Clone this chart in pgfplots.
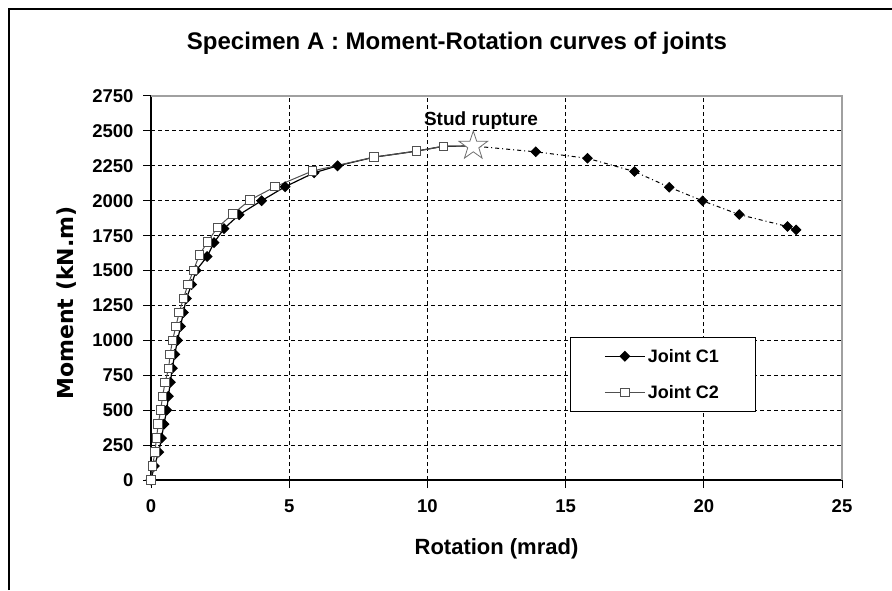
\documentclass[border=0pt]{standalone}
\usepackage{fontspec}
\setmainfont{Liberation Sans}
\newfontfamily\dejavu{DejaVu Sans}
\usepackage{pgfplots}
\pgfplotsset{compat=1.18}

\pgfdeclareplotmark{ostar}{%
  \pgfpathmoveto{\pgfqpoint{0pt}{15pt}}%
  \pgfpathlineto{\pgfqpoint{3.41pt}{4.69pt}}%
  \pgfpathlineto{\pgfqpoint{14.27pt}{4.64pt}}%
  \pgfpathlineto{\pgfqpoint{5.52pt}{-1.79pt}}%
  \pgfpathlineto{\pgfqpoint{8.82pt}{-12.14pt}}%
  \pgfpathlineto{\pgfqpoint{0pt}{-5.8pt}}%
  \pgfpathlineto{\pgfqpoint{-8.82pt}{-12.14pt}}%
  \pgfpathlineto{\pgfqpoint{-5.52pt}{-1.79pt}}%
  \pgfpathlineto{\pgfqpoint{-14.27pt}{4.64pt}}%
  \pgfpathlineto{\pgfqpoint{-3.41pt}{4.69pt}}%
  \pgfpathclose
  \pgfusepathqfillstroke
}

\definecolor{cframe}{RGB}{160,160,160}
\definecolor{ctwo}{RGB}{80,80,80}
\definecolor{cstar}{RGB}{110,110,110}

\begin{document}
\begin{tikzpicture}
\path[use as bounding box] (0pt,0pt) rectangle (892pt,590pt);
\draw[line width=1.5pt] (9pt,0pt) -- (9pt,581pt) -- (892pt,581pt);
\node[anchor=base, font=\fontsize{24}{28}\selectfont\bfseries] at (457pt,540.7pt) {Specimen A : Moment-Rotation curves of joints};
\begin{axis}[
  at={(151pt,110pt)}, anchor=south west,
  scale only axis, width=691pt, height=384pt,
  xmin=0, xmax=25, ymin=0, ymax=2750,
  xtick distance=5, ytick distance=250,
  axis x line*=bottom, axis y line*=left,
  axis line style={black, line width=1.5pt},
  tick align=outside, major tick length=8pt,
  tick style={black, line width=1pt},
  grid=major,
  major grid style={black, line width=0.9pt, dash pattern=on 4pt off 3pt},
  /pgf/number format/.cd, assume math mode=true, 1000 sep={}, /pgfplots/.cd,
  ticklabel style={font=\fontsize{18.5}{21}\selectfont\bfseries},
  xticklabel style={yshift=-8pt},
  yticklabel style={xshift=-6pt},
  xlabel={Rotation (mrad)},
  xlabel style={at={(axis description cs:0.5,-0.195)}, anchor=base, font=\fontsize{22}{26}\selectfont\bfseries},
  ylabel={Moment (kN.m)},
  ylabel style={at={(axis description cs:-0.1216,0.461)}, anchor=center, font=\fontsize{22}{26}\selectfont\dejavu\bfseries},
  clip=false,
  legend style={at={(0.606,0.3724)}, anchor=north west, draw=black, line width=1pt, fill=white,
    font=\fontsize{18}{20}\selectfont\bfseries, inner xsep=34pt, inner ysep=10pt, row sep=19pt,
    nodes={inner sep=2.5pt, text height=12.5pt, text depth=0pt}},
  legend cell align=left,
  legend image code/.code={\draw[mark indices={2}] plot coordinates {(0pt,0pt) (20pt,0pt) (40pt,0pt)};},
]
\draw[cframe, line width=1.5pt] (rel axis cs:0,1) -- (rel axis cs:1,1) -- (rel axis cs:1,0);

% Joint C1 (pre-rupture)
\addplot[black, line width=1.2pt, mark=square*, mark size=3.3pt,
  mark options={rotate=45, solid, fill=black}, mark indices={1,...,24}]
coordinates {
(0,0)(0.12,100)(0.28,200)(0.38,300)(0.47,400)(0.57,500)(0.63,600)(0.70,700)
(0.77,800)(0.86,900)(0.96,1000)(1.07,1100)(1.17,1200)(1.28,1300)(1.47,1400)
(1.63,1500)(2.03,1600)(2.28,1700)(2.64,1800)(3.19,1900)(4.00,2000)(4.85,2100)
(5.90,2200)(6.75,2250)(8.07,2312)(9.60,2355)(10.58,2390)(11.66,2392)
};
\addlegendentry{Joint C1}

% Joint C1 (post-rupture)
\addplot[forget plot, black, line width=1pt, dash pattern=on 4pt off 3pt on 1pt off 3pt,
  mark=square*, mark size=3.3pt, mark options={rotate=45, solid, fill=black}, mark indices={2,...,9}]
coordinates {
(11.66,2392)(13.92,2350)(15.79,2304)(17.49,2209)(18.75,2097)(19.96,1999)
(21.28,1901)(23.03,1815)(23.34,1791)
};

% Joint C2
\addplot[ctwo, line width=1pt, mark=square*, mark size=4.2pt,
  mark options={solid, fill=white, draw=ctwo, line width=1pt}, mark indices={1,...,26}]
coordinates {
(0,0)(0.06,100)(0.14,200)(0.20,300)(0.26,400)(0.35,500)(0.42,600)(0.51,700)
(0.64,800)(0.69,900)(0.78,1000)(0.90,1100)(1.02,1200)(1.17,1300)(1.34,1400)
(1.53,1500)(1.75,1610)(2.04,1705)(2.40,1807)(2.96,1905)(3.58,2005)(4.49,2100)
(5.84,2213)(8.07,2312)(9.60,2355)(10.58,2390)(11.66,2392)
};
\addlegendentry{Joint C2}

% Stud rupture point
\addplot[forget plot, only marks, mark=ostar, mark options={fill=white, draw=cstar, line width=0.8pt}]
coordinates {(11.66,2392)};

\node[anchor=base, font=\fontsize{19}{22}\selectfont\bfseries] at (axis cs:11.94,2536) {Stud rupture};
\end{axis}
\end{tikzpicture}
\end{document}
